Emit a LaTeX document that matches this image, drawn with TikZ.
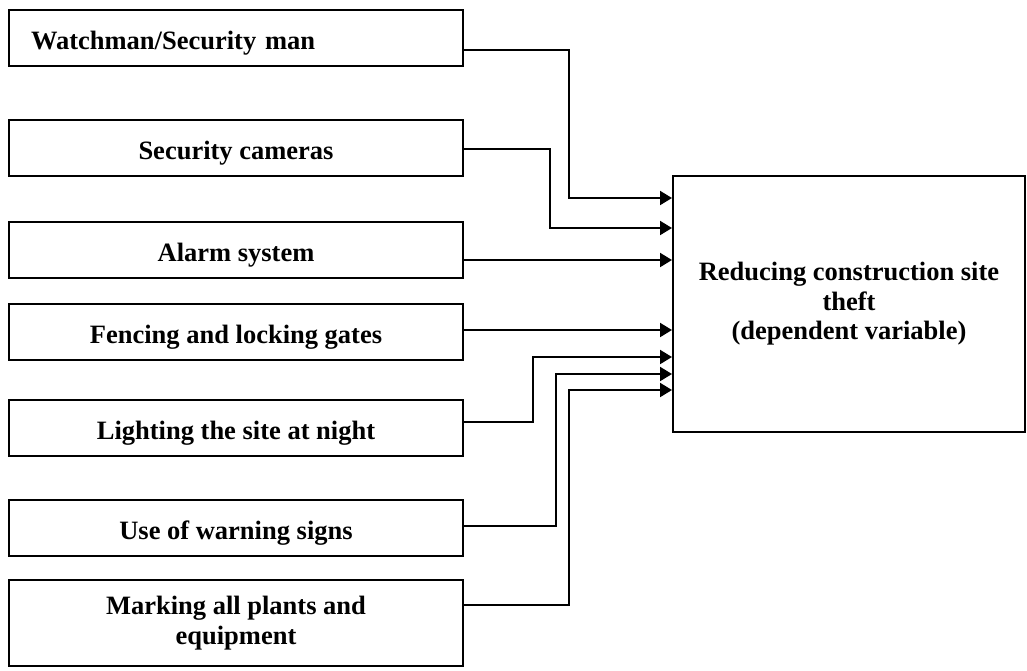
\documentclass[tikz,border=0pt]{standalone}
\usepackage{fontspec}
\setmainfont{Liberation Serif}
\usetikzlibrary{arrows.meta}

\tikzset{
    factor/.style={draw, line width=2pt, minimum width=454pt, minimum height=56pt,
        inner sep=0pt, align=center, font=\fontsize{26.5}{29.5}\selectfont\bfseries},
    cause/.style={factor, text height=22pt, text depth=0pt},
    conn/.style={line width=2pt, -{Triangle[length=12pt,width=14pt]}}
}

\begin{document}
\begin{tikzpicture}[x=1pt,y=-1pt]
    \useasboundingbox (0,0) rectangle (1027,670);

    % Independent variables
    \node[cause, align=left, text width=410pt, inner xsep=22pt] (watch) at (236,38) {Watchman/Security man};
    \node[cause] (cams)  at (236,148) {Security cameras};
    \node[cause] (alarm) at (236,250) {Alarm system};
    \node[cause] (fence) at (236,332) {Fencing and locking gates};
    \node[cause] (light) at (236,428) {Lighting the site at night};
    \node[cause] (warn)  at (236,528) {Use of warning signs};
    \node[factor, minimum height=86pt] (mark) at (236,623) {Marking all plants and\\equipment};

    % Dependent variable
    \node[factor, minimum width=352pt, minimum height=256pt] (theft) at (849,304)
        {Reducing construction site\\theft\\(dependent variable)};

    % Connectors
    \foreach \src/\ys/\xb/\yt in {watch/50/569/198, cams/149/550/228, light/422/533/357, warn/526/556/374, mark/605/569/390} {
        \draw[conn] (\src.east |- 0,\ys) -| (\xb,\yt) -- (theft.west |- 0,\yt);
    }
    \draw[conn] (alarm.east |- 0,260) -- (theft.west |- 0,260);
    \draw[conn] (fence.east |- 0,330) -- (theft.west |- 0,330);
\end{tikzpicture}
\end{document}
